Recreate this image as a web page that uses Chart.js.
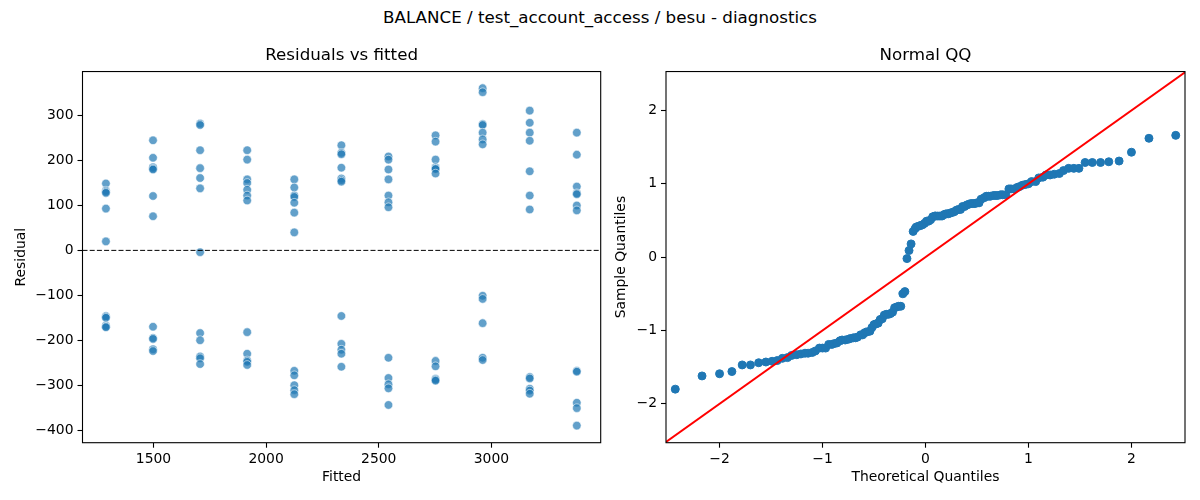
<!DOCTYPE html>
<html>
<head>
<meta charset="utf-8">
<script src="https://cdn.jsdelivr.net/npm/chart.js@4/dist/chart.umd.min.js"></script>
<style>
  body { margin: 0; background: #fff; width: 1200px; height: 500px; position: relative; overflow: hidden; font-family: "DejaVu Sans", sans-serif; }
  #suptitle { position: absolute; left: 0; top: 7px; width: 1200px; text-align: center; font-size: 16.7px; color: #000; }
  .panel { position: absolute; top: 40px; height: 460px; }
  #left { left: 0; width: 612px; }
  #right { left: 612px; width: 588px; }
</style>
</head>
<body>
<div id="suptitle">BALANCE / test_account_access / besu - diagnostics</div>
<div class="panel" id="left"><canvas id="chartResiduals"></canvas></div>
<div class="panel" id="right"><canvas id="chartQQ"></canvas></div>
<script>
// fitted value of each group and the residuals
const fittedLevels = [1289, 1498, 1707, 1916, 2125, 2334, 2543, 2752, 2961, 3170, 3379];
const residualsByFit = [
  [149, 133, 130, 128, 93, 20, -146, -148, -150, -167, -170, -171],
  [245, 206, 185, 182, 180, 121, 76, -170, -195, -197, -220, -224],
  [282, 279, 223, 183, 161, 138, -4, -184, -200, -236, -240, -253],
  [223, 202, 158, 150, 135, 122, 111, -182, -230, -245, -248, -255],
  [158, 140, 122, 119, 106, 84, 40, -268, -278, -300, -311, -320],
  [234, 217, 214, 184, 160, 156, 153, -146, -208, -221, -230, -259],
  [209, 202, 180, 158, 122, 107, 96, -239, -284, -298, -307, -344],
  [256, 242, 202, 185, 182, 181, 171, -246, -258, -286, -288, -290],
  [361, 352, 281, 279, 262, 247, 236, -101, -108, -162, -239, -244],
  [311, 284, 262, 244, 176, 122, 91, -282, -285, -308, -312, -319],
  [262, 213, 142, 127, 125, 100, 89, -268, -270, -339, -351, -390]
];
const fittedTicks = [1500, 2000, 2500, 3000];
const residualTicks = [-400, -300, -200, -100, 0, 100, 200, 300];

// normal QQ points
const qqTheoretical = [
  -2.43, -2.17, -2.00, -1.88, -1.78, -1.70, -1.62, -1.55, -1.49, -1.44, -1.39, -1.34, -1.30, -1.25, -1.21, -1.17,
  -1.14, -1.10, -1.07, -1.03, -1.00, -0.97, -0.94, -0.91, -0.89, -0.86, -0.83, -0.81, -0.78, -0.75, -0.73, -0.70,
  -0.68, -0.66, -0.63, -0.61, -0.59, -0.57, -0.54, -0.52, -0.50, -0.48, -0.46, -0.44, -0.42, -0.40, -0.38, -0.36,
  -0.34, -0.32, -0.30, -0.28, -0.26, -0.24, -0.22, -0.20, -0.18, -0.16, -0.14, -0.12, -0.10, -0.09, -0.07, -0.05,
  -0.03, -0.01,
  0.01, 0.03, 0.05, 0.07, 0.09, 0.10, 0.12, 0.14, 0.16, 0.18, 0.20, 0.22, 0.24, 0.26, 0.28, 0.30,
  0.32, 0.34, 0.36, 0.38, 0.40, 0.42, 0.44, 0.46, 0.48, 0.50, 0.52, 0.54, 0.57, 0.59, 0.61, 0.63,
  0.66, 0.68, 0.70, 0.73, 0.75, 0.78, 0.81, 0.83, 0.86, 0.89, 0.91, 0.94, 0.97, 1.00, 1.03, 1.07,
  1.10, 1.14, 1.17, 1.21, 1.25, 1.30, 1.34, 1.39, 1.44, 1.49, 1.55, 1.62, 1.70, 1.78, 1.88, 2.00,
  2.17, 2.43
];
const qqSample = [
  -1.80, -1.62, -1.59, -1.56, -1.47, -1.47, -1.44, -1.43, -1.42, -1.41, -1.38, -1.37, -1.34, -1.33, -1.32, -1.31,
  -1.31, -1.30, -1.28, -1.24, -1.24, -1.24, -1.19, -1.19, -1.18, -1.17, -1.14, -1.13, -1.13, -1.12, -1.11, -1.10,
  -1.10, -1.09, -1.06, -1.06, -1.03, -1.02, -1.01, -0.96, -0.92, -0.91, -0.90, -0.85, -0.84, -0.79, -0.78, -0.78,
  -0.77, -0.75, -0.69, -0.68, -0.67, -0.67, -0.50, -0.47, -0.02,
  0.09, 0.18, 0.35, 0.39, 0.41, 0.42, 0.43, 0.44, 0.46, 0.49, 0.49, 0.51, 0.55, 0.56, 0.56, 0.56,
  0.56, 0.56, 0.58, 0.59, 0.59, 0.60, 0.61, 0.62, 0.64, 0.65, 0.65, 0.69, 0.69, 0.71, 0.72, 0.73,
  0.73, 0.73, 0.74, 0.74, 0.79, 0.81, 0.83, 0.83, 0.83, 0.84, 0.84, 0.84, 0.85, 0.85, 0.85, 0.93,
  0.93, 0.93, 0.95, 0.96, 0.98, 0.99, 1.00, 1.03, 1.03, 1.08, 1.09, 1.12, 1.12, 1.13, 1.14, 1.18,
  1.21, 1.21, 1.21, 1.29, 1.29, 1.29, 1.30, 1.31, 1.43, 1.62, 1.66
];
const qqLine = [-2.52, 2.52];
const quantileTicks = [-2, -1, 0, 1, 2];

const TICK_FONT = { family: 'DejaVu Sans', size: 13.9 };
const minus = v => String(v).replace('-', '\u2212');

// matplotlib style box around the axes, plus optional dashed zero line
const framePlugin = {
  id: 'frame',
  afterDatasetsDraw(chart, args, opts) {
    const { ctx, chartArea: a } = chart;
    ctx.save();
    if (opts.zeroLine) {
      let y = chart.scales.y.getPixelForValue(0);
      ctx.strokeStyle = '#000';
      ctx.lineWidth = 1;
      ctx.setLineDash([5, 2.2]);
      ctx.beginPath();
      ctx.moveTo(a.left, y);
      ctx.lineTo(a.right, y);
      ctx.stroke();
      ctx.setLineDash([]);
    }
    ctx.strokeStyle = '#000';
    ctx.lineWidth = 1.1;
    ctx.strokeRect(a.left, a.top, a.right - a.left, a.bottom - a.top);
    ctx.restore();
  }
};

function axis(min, max, ticks, title, pad, isX, width) {
  return {
    type: 'linear',
    min: min,
    max: max,
    border: { display: false },
    grid: { drawOnChartArea: false, drawTicks: true, tickLength: 5, tickWidth: 1.1, color: '#000' },
    ticks: { color: '#000', font: TICK_FONT, padding: isX ? 3 : 4, callback: v => minus(v), maxRotation: 0 },
    afterBuildTicks: s => { s.ticks = ticks.map(v => ({ value: v })); },
    afterFit: s => { if (isX) s.height = width; else s.width = width; },
    title: { display: true, text: title, color: '#000', font: TICK_FONT, padding: pad }
  };
}

function titleOpts(text) {
  return {
    display: true, text: text, fullSize: false, color: '#000',
    font: { family: 'DejaVu Sans', size: 16.7, weight: 'normal' },
    padding: { top: 5.5, bottom: 6 }
  };
}

let scatterPoints = [];
fittedLevels.forEach(function(f, i) {
  for (let r of residualsByFit[i]) {
    scatterPoints.push({ x: f, y: r });
  }
});

new Chart(document.getElementById('chartResiduals').getContext('2d'), {
  type: 'scatter',
  data: {
    datasets: [{
      data: scatterPoints,
      backgroundColor: 'rgba(31, 119, 180, 0.7)',
      borderColor: 'rgba(255, 255, 255, 0.7)',
      borderWidth: 0.8,
      pointRadius: 4.3
    }]
  },
  options: {
    responsive: true,
    maintainAspectRatio: false,
    animation: false,
    devicePixelRatio: 1,
    layout: { padding: { left: 0, right: 11.3, top: 0, bottom: 0 } },
    plugins: {
      legend: { display: false },
      tooltip: { enabled: false },
      title: titleOpts('Residuals vs fitted'),
      frame: { zeroLine: true }
    },
    scales: {
      x: axis(1185, 3485, fittedTicks, 'Fitted', { top: 0, bottom: 14.3 }, true, 57.3),
      y: axis(-428, 398, residualTicks, 'Residual', { top: 12.6, bottom: 0 }, false, 82.5)
    }
  },
  plugins: [framePlugin]
});

let qqPoints = qqTheoretical.map((t, i) => ({ x: t, y: qqSample[i] }));

new Chart(document.getElementById('chartQQ').getContext('2d'), {
  type: 'scatter',
  data: {
    datasets: [{
      type: 'line',
      data: qqLine.map(v => ({ x: v, y: v })),
      borderColor: 'red',
      borderWidth: 2,
      pointRadius: 0,
      showLine: true,
      fill: false
    }, {
      data: qqPoints,
      backgroundColor: '#1f77b4',
      borderColor: '#1f77b4',
      borderWidth: 1,
      pointRadius: 4
    }]
  },
  options: {
    responsive: true,
    maintainAspectRatio: false,
    animation: false,
    devicePixelRatio: 1,
    layout: { padding: { left: 0, right: 15, top: 0, bottom: 0 } },
    plugins: {
      legend: { display: false },
      tooltip: { enabled: false },
      title: titleOpts('Normal QQ'),
      frame: { zeroLine: false }
    },
    scales: {
      x: axis(-2.52, 2.52, quantileTicks, 'Theoretical Quantiles', { top: 0, bottom: 14.3 }, true, 57.3),
      y: axis(-2.53, 2.53, quantileTicks, 'Sample Quantiles', { top: 1.3, bottom: 0 }, false, 54)
    }
  },
  plugins: [framePlugin]
});
</script>
</body>
</html>
